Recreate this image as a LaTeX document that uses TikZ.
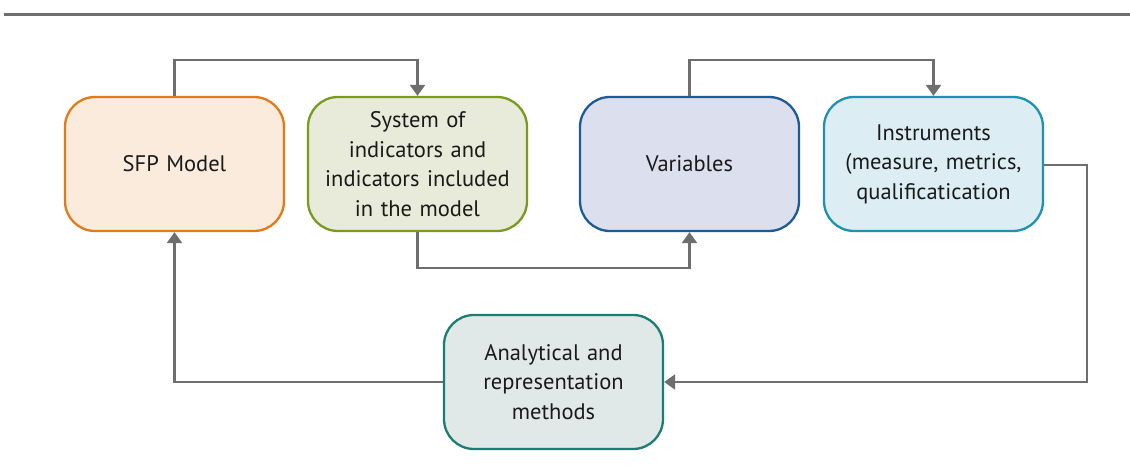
\documentclass[tikz,border=0pt]{standalone}
\usepackage{fontspec}
\setmainfont{PT Sans}
\usetikzlibrary{arrows.meta}
\definecolor{linegray}{HTML}{6E6E6E}
\definecolor{txt}{HTML}{1A1A1A}
\definecolor{oB}{HTML}{E07B1A}\definecolor{oF}{HTML}{FBEBDD}
\definecolor{gB}{HTML}{7A9A1E}\definecolor{gF}{HTML}{E8EBDA}
\definecolor{bB}{HTML}{1E5A96}\definecolor{bF}{HTML}{DCE0EE}
\definecolor{cB}{HTML}{1E92AE}\definecolor{cF}{HTML}{DCEDF3}
\definecolor{tB}{HTML}{1A7E72}\definecolor{tF}{HTML}{E0E8E8}
\begin{document}
\begin{tikzpicture}[x=1pt,y=-1pt,
  box/.style={rounded corners=30pt, line width=2.3pt, minimum width=219pt, minimum height=134pt,
    text width=210pt, align=center, font=\fontsize{22.5}{29.5}\selectfont, text=txt, inner sep=0pt},
  conn/.style={line width=2.5pt, draw=linegray},
  arr/.style={conn, -{Triangle[width=15pt,length=11pt]}}]
\useasboundingbox (0,0) rectangle (1130,473);
\draw[line width=3pt, draw=linegray] (4,14.5) -- (1130,14.5);
\node[box, draw=oB, fill=oF] (sfp) at (174.5,164) {SFP Model};
\node[box, draw=gB, fill=gF] (sys) at (417.5,164) {System of\\indicators and\\indicators included\\in the model};
\node[box, draw=bB, fill=bF] (var) at (689.5,164) {Variables};
\node[box, draw=cB, fill=cF] (ins) at (933.5,164) {Instruments\\(measure, metrics,\\qualificatication};
\node[box, draw=tB, fill=tF] (ana) at (553.5,382) {Analytical and\\representation\\methods};
\coordinate (c1) at (174.5,60);
\coordinate (c2) at (417.5,60);
\coordinate (c3) at (417.5,268);
\coordinate (c4) at (689.5,268);
\coordinate (c5) at (689.5,60);
\coordinate (c6) at (933.5,60);
\coordinate (c7) at (1087,165);
\coordinate (c8) at (1087,382);
\coordinate (c9) at (174.5,382);
\draw[arr] (sfp.north) -- (c1) -- (c2) -- (sys.north);
\draw[arr] (sys.south) -- (c3) -- (c4) -- (var.south);
\draw[arr] (var.north) -- (c5) -- (c6) -- (ins.north);
\draw[arr] (ins.east |- c7) -- (c7) -- (c8) -- (ana.east);
\draw[arr] (ana.west) -- (c9) -- (sfp.south);
\end{tikzpicture}
\end{document}
